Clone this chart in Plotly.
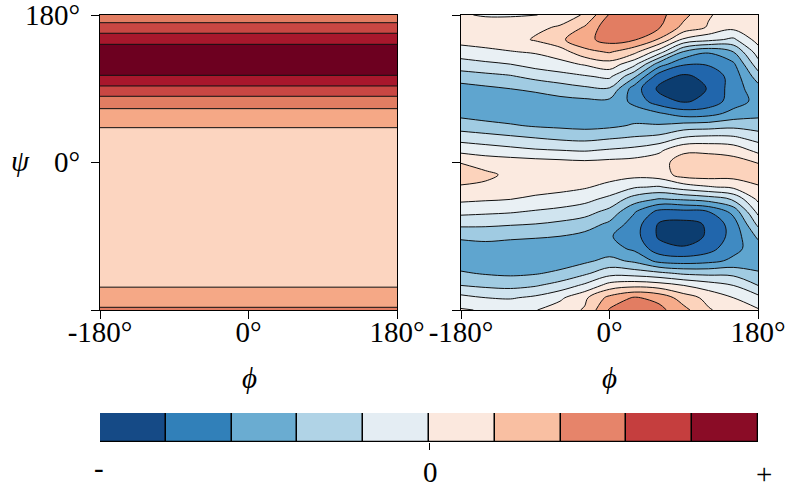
import plotly.graph_objects as go

# ---------------- data ----------------
# Left panel: 1-D profile along psi (level index)
PSI_LEFT = [-180, -175, -165, -150, -120, -90, -60, -30, 0, 30, 45, 60, 70, 80, 90,
            100, 110, 125, 140, 150, 160, 170, 180]
F_LEFT = [2.0, 1.24, 0.8, 0.45, 0.3, 0.2, 0.15, 0.15, 0.2, 0.35, 0.53, 1.1, 1.8, 2.45, 3.075,
          4.325, 4.6, 5.3, 4.7, 4.224, 3.284, 2.532, 2.0]
PHI_LEFT = [-180, 180]

# Right panel: level index on a (psi, phi) grid
PHI = [-180, -150, -120, -90, -60, -30, 0, 30, 60, 90, 120, 150, 180]
PSI = [180, 165, 150, 135, 120, 105, 90, 75, 60, 45, 30, 15, 0,
       -15, -30, -45, -60, -75, -90, -105, -120, -135, -150, -165, -180]
Z_RIGHT = [
    [6.6, 6.4, 6.4, 6.45, 7.0, 7.6, 9.6, 10.2, 9.8, 8.8, 7.6, 7.0, 6.6],
    [7.2, 7.1, 7.1, 7.3, 7.6, 8.6, 10.2, 10.4, 9.6, 8.2, 7.4, 6.8, 7.2],
    [6.9, 7.0, 7.1, 7.6, 8.3, 9.2, 9.9, 9.6, 8.4, 6.3, 5.8, 5.3, 6.9],
    [6.0, 6.25, 6.45, 6.6, 7.0, 8.2, 8.6, 7.8, 6.0, 3.4, 2.6, 3.5, 6.0],
    [5.1, 5.3, 5.5, 5.9, 6.2, 6.6, 7.1, 5.8, 3.0, 1.6, 1.6, 2.3, 5.1],
    [4.0, 4.2, 4.4, 4.8, 5.1, 5.4, 5.7, 3.7, 0.9, 0.3, 0.8, 1.9, 4.0],
    [3.1, 3.3, 3.5, 3.7, 4.0, 4.3, 4.4, 2.0, 0.3, 0.0, 0.55, 2.0, 3.1],
    [2.8, 2.8, 2.9, 3.0, 3.2, 3.3, 3.3, 2.2, 0.9, 0.35, 0.8, 2.0, 2.8],
    [3.2, 3.0, 2.9, 2.8, 2.8, 2.8, 2.7, 3.0, 2.6, 2.0, 2.1, 2.8, 3.2],
    [4.0, 3.8, 3.6, 3.4, 3.3, 3.2, 3.3, 3.6, 3.6, 3.9, 4.0, 4.2, 4.0],
    [5.1, 4.9, 4.7, 4.5, 4.3, 4.2, 4.4, 4.6, 4.8, 5.6, 5.8, 5.7, 5.1],
    [6.2, 6.0, 5.8, 5.6, 5.5, 5.4, 5.6, 5.8, 6.3, 7.3, 7.3, 7.1, 6.2],
    [7.45, 7.1, 7.0, 6.9, 6.8, 6.7, 6.8, 6.9, 7.1, 8.0, 8.0, 7.9, 7.45],
    [8.2, 7.7, 7.3, 7.2, 7.1, 7.0, 6.9, 6.8, 7.0, 7.9, 8.0, 7.9, 8.2],
    [7.35, 7.3, 7.0, 6.9, 6.8, 6.6, 6.2, 5.6, 5.4, 6.0, 6.4, 6.7, 7.35],
    [6.7, 6.6, 6.5, 6.3, 6.1, 5.8, 5.2, 4.0, 3.4, 3.6, 3.9, 4.6, 6.7],
    [5.8, 5.7, 5.6, 5.4, 5.2, 4.9, 4.2, 2.6, 1.2, 1.2, 1.5, 2.8, 5.8],
    [4.75, 4.7, 4.6, 4.5, 4.3, 4.0, 3.3, 2.0, 0.4, 0.2, 0.6, 2.0, 4.75],
    [3.7, 3.8, 3.7, 3.6, 3.5, 3.2, 2.6, 1.9, 0.35, 0.1, 0.6, 1.9, 3.7],
    [3.0, 3.1, 3.0, 3.0, 2.9, 2.9, 2.9, 2.3, 0.9, 0.6, 1.1, 2.2, 3.0],
    [3.0, 2.9, 2.9, 2.9, 3.0, 3.3, 3.8, 3.3, 2.2, 2.0, 2.2, 2.7, 3.0],
    [3.6, 3.4, 3.3, 3.4, 3.7, 4.3, 5.1, 5.0, 4.7, 4.3, 4.2, 4.2, 3.6],
    [4.5, 4.3, 4.2, 4.4, 4.9, 5.7, 6.9, 7.2, 7.0, 6.5, 6.0, 5.5, 4.5],
    [5.8, 5.5, 5.4, 5.7, 6.3, 7.3, 8.8, 9.6, 9.2, 8.0, 7.2, 6.5, 5.8],
    [6.6, 6.4, 6.4, 6.45, 7.0, 7.6, 9.6, 10.2, 9.8, 8.8, 7.6, 7.0, 6.6],
]

LEFT_COLORS = ["#fcd5c0", "#f5a886", "#e27d62", "#c94743", "#a8172c", "#6d0020"]
RIGHT_COLORS = ["#0c3d70", "#2166ac", "#3f8ac2", "#5fa5cf", "#a0cbe2", "#d0e4ef",
                "#e9f0f4", "#fbeae0", "#fcd3bc", "#f6ab8a", "#e27d62"]
CBAR_COLORS = ["#154a86", "#3180b9", "#6aacd1", "#b0d3e6", "#e4edf3",
               "#fbe8de", "#f9bfa2", "#e6846a", "#c53e3e", "#8a0c26"]
CBAR_POS = [0.5, 1.5, 2.5, 3.5, 4.5, 5.5, 6.5, 7.5, 8.5, 9.5]
CBAR_LABELS = ["-", "0", "+"]

ANG_TICKS = [-180, 0, 180]
ANG_LABELS = ["-180°", "0°", "180°"]

# ---------------- layout helpers ----------------
W, H = 789, 491
ML, MR, MT, MB = 100, 31, 15, 49
PW, PH = W - ML - MR, H - MT - MB


def xdom(a, b):
    return [(a - ML) / PW, (b - ML) / PW]


def ydom(top, bot):
    return [(H - MB - bot) / PH, (H - MB - top) / PH]


def px(x):
    return (x - ML) / PW


def py(y):
    return (H - MB - y) / PH


FONT = "Liberation Serif"
FS = 29


def scale(colors):
    n = len(colors) - 1
    return [[i / n, c] for i, c in enumerate(colors)]


fig = go.Figure()

# left panel
z_left = [[v, v] for v in F_LEFT]
fig.add_trace(go.Contour(
    x=PHI_LEFT, y=PSI_LEFT, z=z_left, xaxis="x", yaxis="y",
    autocontour=False,
    contours=dict(start=0.5, end=len(LEFT_COLORS) - 1.5, size=1, coloring="fill", showlines=True),
    colorscale=scale(LEFT_COLORS), showscale=False,
    line=dict(color="#111111", width=1, smoothing=0), hoverinfo="skip"))

# right panel (ascending psi for the library)
psi_asc = PSI[::-1]
z_asc = Z_RIGHT[::-1]
fig.add_trace(go.Contour(
    x=PHI, y=psi_asc, z=z_asc, xaxis="x2", yaxis="y2",
    autocontour=False,
    contours=dict(start=0.5, end=len(RIGHT_COLORS) - 1.5, size=1, coloring="fill", showlines=True),
    colorscale=scale(RIGHT_COLORS), showscale=False,
    line=dict(color="#111111", width=1, smoothing=1.0), hoverinfo="skip"))

# colour bar drawn as bars
fig.add_trace(go.Bar(
    x=CBAR_POS, y=[1] * len(CBAR_POS), width=1, xaxis="x3", yaxis="y3",
    marker=dict(color=CBAR_COLORS, line=dict(color="black", width=1.3)),
    hoverinfo="skip", showlegend=False))

axis_common = dict(
    showline=True, linecolor="black", linewidth=1, mirror=True,
    ticks="outside", ticklen=8, tickwidth=1, tickcolor="black",
    showgrid=False, zeroline=False, automargin=False,
    tickfont=dict(family=FONT, size=FS, color="black"),
)

fig.update_layout(
    width=W, height=H,
    margin=dict(l=ML, r=MR, t=MT, b=MB, autoexpand=False),
    paper_bgcolor="white", plot_bgcolor="white",
    showlegend=False, bargap=0,
    xaxis=dict(domain=xdom(100, 397), range=[-180, 180], tickvals=ANG_TICKS,
               ticktext=ANG_LABELS, anchor="y", ticklabelstandoff=-12, **axis_common),
    yaxis=dict(domain=ydom(15, 310), range=[-180, 180], tickvals=ANG_TICKS,
               showticklabels=False, anchor="x", **axis_common),
    xaxis2=dict(domain=xdom(461, 758), range=[-180, 180], tickvals=ANG_TICKS,
                ticktext=ANG_LABELS, anchor="y2", ticklabelstandoff=-12, **axis_common),
    yaxis2=dict(domain=ydom(15, 310), range=[-180, 180], tickvals=ANG_TICKS,
                showticklabels=False, anchor="x2", **axis_common),
    xaxis3=dict(domain=xdom(100, 758), range=[0, 10], tickvals=[5],
                showticklabels=False,
                anchor="y3", showline=False, ticks="outside", ticklen=7, tickwidth=1,
                tickcolor="black", showgrid=False, zeroline=False, automargin=False),
    yaxis3=dict(domain=ydom(413, 442), range=[0, 1], showticklabels=False, ticks="",
                showgrid=False, zeroline=False, showline=False, anchor="x3",
                automargin=False),
)

ann = [
    dict(text=ANG_LABELS[2], x=px(82), y=py(15), xanchor="right"),
    dict(text=ANG_LABELS[1], x=px(82), y=py(162), xanchor="right"),
    dict(text="<i>ψ</i>", x=px(20), y=py(161), xanchor="center"),
    dict(text="<i>ϕ</i>", x=px(249), y=py(378), xanchor="center"),
    dict(text="<i>ϕ</i>", x=px(609), y=py(378), xanchor="center"),
    dict(text=CBAR_LABELS[0], x=px(99), y=py(468), xanchor="center"),
    dict(text=CBAR_LABELS[1], x=px(430), y=py(472), xanchor="center"),
    dict(text=CBAR_LABELS[2], x=px(764), y=py(474), xanchor="center"),
]
for a in ann:
    fig.add_annotation(xref="paper", yref="paper", showarrow=False,
                       yanchor="middle",
                       font=dict(family=FONT, size=FS, color="black"), **a)

fig.write_html("out.html")
